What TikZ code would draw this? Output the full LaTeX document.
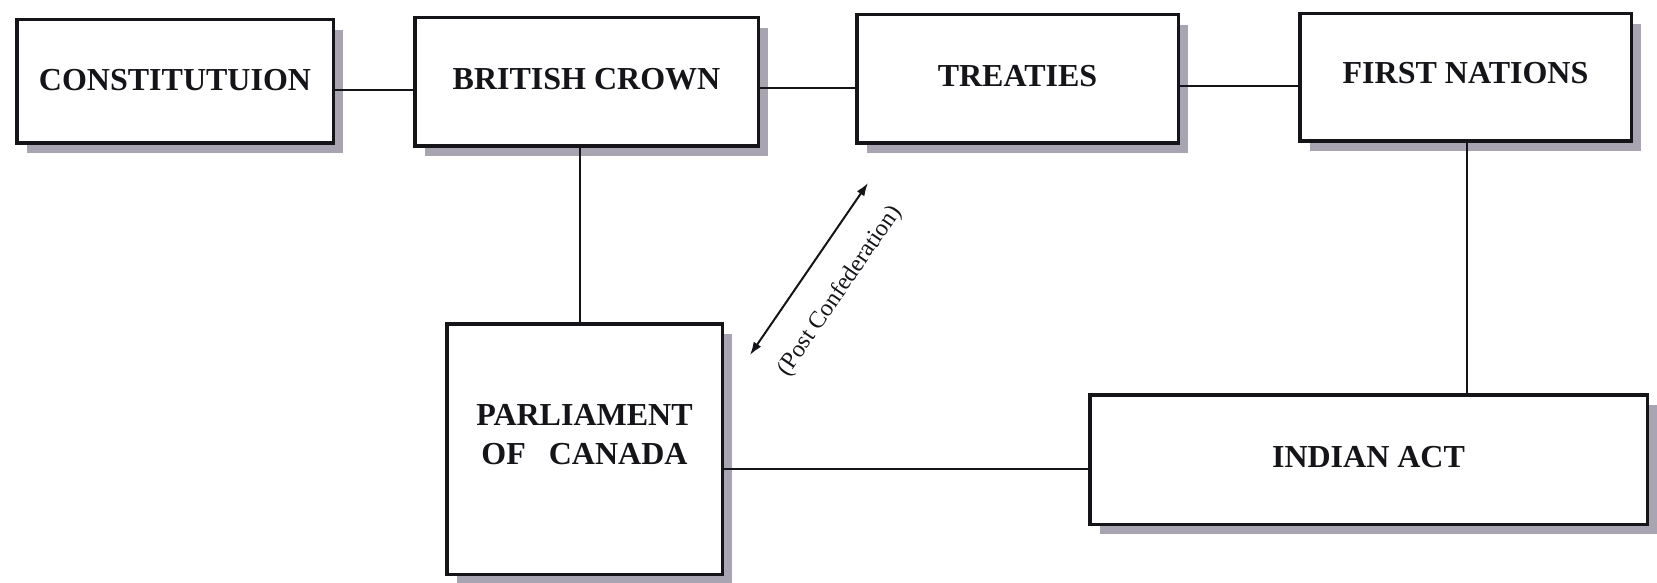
\documentclass[tikz,border=0pt]{standalone}
\usepackage{fontspec}
\setmainfont{Liberation Serif}
\usetikzlibrary{arrows.meta,shadows}
\definecolor{shadowc}{RGB}{168,164,178}
\definecolor{inkc}{RGB}{20,20,25}
\tikzset{
  box/.style={draw=inkc, line width=3.5pt, fill=white, inner sep=0pt,
    font=\fontsize{32}{39}\selectfont\bfseries, text=inkc, align=center,
    drop shadow={shadow xshift=10pt, shadow yshift=-10pt, fill=shadowc, opacity=1}},
  conn/.style={draw=inkc, line width=2pt},
  dbl/.style={draw=inkc, line width=2pt, {Latex[length=13pt,width=9pt]}-{Latex[length=13pt,width=9pt]}},
  lbl/.style={font=\fontsize{24}{28}\selectfont, text=inkc, inner sep=0pt}
}
\begin{document}
\begin{tikzpicture}[x=1pt,y=-1pt]
\useasboundingbox (0,0) rectangle (1657,583);
\node[box, minimum width=316.5pt, minimum height=123.5pt, text depth=3pt] (C) at (175,81.5) {CONSTITUTUION};
\node[box, minimum width=343.5pt, minimum height=128.5pt, text depth=6pt] (BC) at (586.5,82) {BRITISH CROWN};
\node[box, minimum width=321.5pt, minimum height=128.5pt, text depth=6pt] (T) at (1017.5,79) {TREATIES};
\node[box, minimum width=331.5pt, minimum height=127.5pt, text depth=10pt] (FN) at (1465.5,77.5) {FIRST NATIONS};
\node[box, minimum width=275.5pt, minimum height=250.5pt, text depth=30pt] (P) at (584.5,449) {PARLIAMENT\\OF\hspace{23pt}CANADA};
\node[box, minimum width=557.5pt, minimum height=129.5pt, text depth=6pt] (IA) at (1368.5,459.5) {INDIAN ACT};

\draw[conn] ([yshift=-8.5pt]C.east) -- ([yshift=-8.5pt]C.east -| BC.west);
\draw[conn] ([yshift=-6pt]BC.east) -- ([yshift=-6pt]BC.east -| T.west);
\draw[conn] ([yshift=-7pt]T.east) -- ([yshift=-7pt]T.east -| FN.west);
\draw[conn] ([xshift=-6.5pt]BC.south) -- ([xshift=-6.5pt]BC.south |- P.north);
\draw[conn] ([xshift=1.5pt]FN.south) -- ([xshift=1.5pt]FN.south |- IA.north);
\draw[conn] ([yshift=-20pt]P.east) -- ([yshift=-20pt]P.east -| IA.west);

\coordinate (a1) at (750,355);
\coordinate (a2) at (868,183);
\draw[dbl] (a1) -- (a2);
\node[lbl, rotate=55.5] (L) at (840,291) {(Post Confederation)};
\end{tikzpicture}
\end{document}
